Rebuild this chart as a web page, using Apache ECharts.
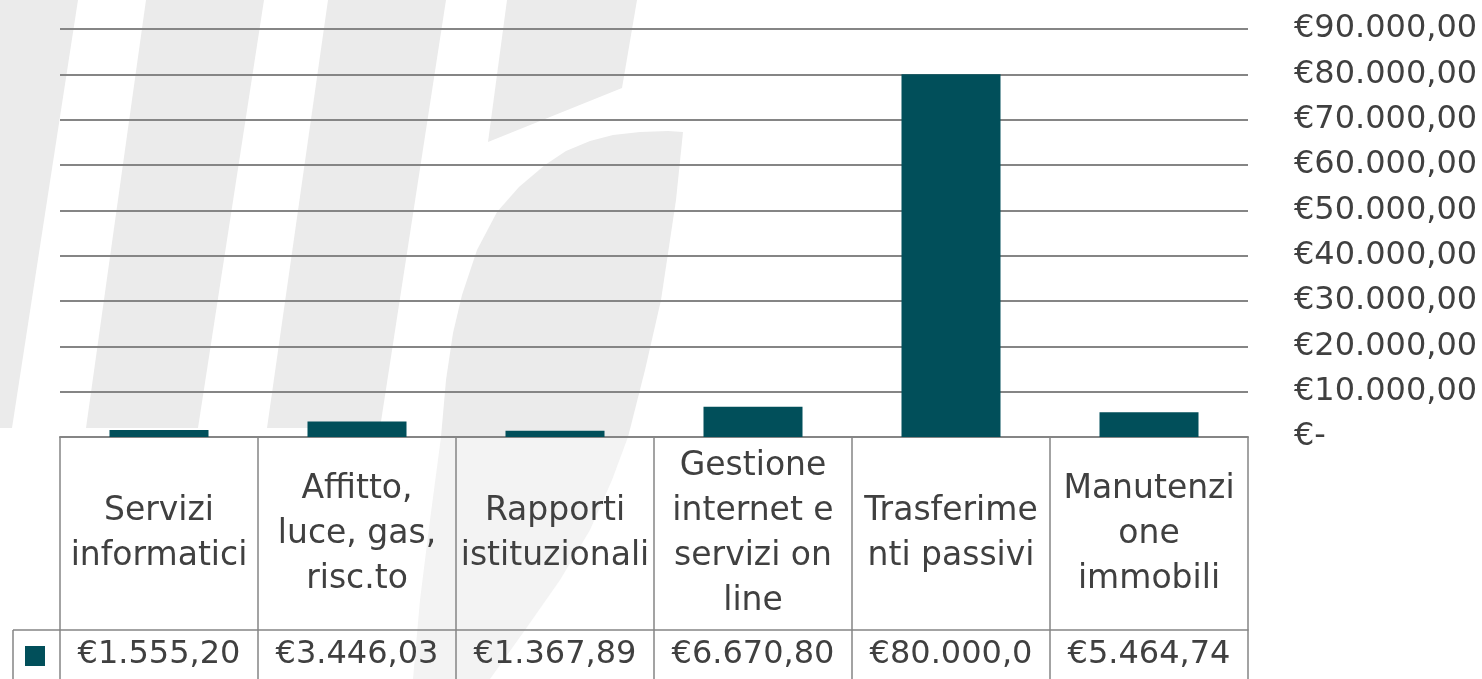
<!DOCTYPE html>
<html>
<head>
<meta charset="utf-8">
<script src="https://cdn.jsdelivr.net/npm/echarts@6/dist/echarts.min.js"></script>
<style>
html,body{margin:0;padding:0;background:#fff;}
#chart{width:1482px;height:679px;}
</style>
</head>
<body>
<div id="chart"></div>
<script>
// ---- data ----
const categories = [
  'Servizi\ninformatici',
  'Affitto,\nluce, gas,\nrisc.to',
  'Rapporti\nistituzionali',
  'Gestione\ninternet e\nservizi on\nline',
  'Trasferime\nnti passivi',
  'Manutenzi\none\nimmobili'
];
const values = [1555.20, 3446.03, 1367.89, 6670.80, 80000.00, 5464.74];
const yMin = 0;
const yMax = 90000;
const yStep = 10000;
const seriesName = 'Importo';

// ---- helpers ----
function formatEuro(v) {
  if (v === 0) return '€-';
  const parts = v.toFixed(2).split('.');
  const intPart = parts[0].replace(/\B(?=(\d{3})+(?!\d))/g, '.');
  return '€' + intPart + ',' + parts[1];
}
// table cells clip text to their width (9 characters fit)
const valueCells = values.map(v => formatEuro(v).slice(0, 9));

const FONT = 'DejaVu Sans';
const TXT = '#404040';
const LINE = '#858585';
const BAR = '#014f5a';
const WM = '#ebebeb';
const WM2 = '#f3f3f3';

const chart = echarts.init(document.getElementById('chart'), null, {renderer: 'canvas'});

const option = {
  backgroundColor: '#ffffff',
  animation: false,
  textStyle: {fontFamily: FONT, color: TXT},
  grid: {left: 60, right: 234, top: 29, bottom: 242, containLabel: false},
  legend: {
    show: true,
    data: [seriesName],
    left: 25,
    top: 646,
    padding: 0,
    icon: 'rect',
    itemWidth: 20,
    itemHeight: 20,
    formatter: function () { return ''; },
    textStyle: {fontSize: 1}
  },
  xAxis: [
    {
      type: 'category',
      data: categories,
      position: 'bottom',
      boundaryGap: true,
      axisLine: {show: true, lineStyle: {color: LINE, width: 2}},
      axisTick: {show: true, length: 242, alignWithLabel: false, lineStyle: {color: LINE, width: 1.5}},
      axisLabel: {
        interval: 0,
        margin: 97,
        verticalAlign: 'middle',
        align: 'center',
        fontSize: 33,
        lineHeight: 45,
        color: TXT,
        fontFamily: FONT
      },
      splitLine: {show: false}
    },
    {
      type: 'category',
      data: valueCells,
      position: 'bottom',
      offset: 193,
      boundaryGap: true,
      axisLine: {show: true, lineStyle: {color: LINE, width: 1.5}},
      axisTick: {show: false},
      axisLabel: {
        interval: 0,
        margin: 25,
        verticalAlign: 'middle',
        align: 'center',
        fontSize: 32,
        color: TXT,
        fontFamily: FONT
      },
      splitLine: {show: false}
    }
  ],
  yAxis: {
    type: 'value',
    position: 'right',
    min: yMin,
    max: yMax,
    interval: yStep,
    axisLine: {show: false},
    axisTick: {show: false},
    axisLabel: {
      margin: 46,
      align: 'left',
      fontSize: 32,
      color: TXT,
      fontFamily: FONT,
      formatter: function (v) { return formatEuro(v); }
    },
    splitLine: {show: true, lineStyle: {color: LINE, width: 2}}
  },
  series: [
    {
      name: seriesName,
      type: 'bar',
      xAxisIndex: 0,
      data: values,
      barWidth: '50%',
      itemStyle: {color: BAR},
      z: 3
    }
  ],
  graphic: [
    // decorative background watermark
    {type: 'polygon', z: -10, silent: true, shape: {points: [[0,0],[78,0],[12,428],[0,428]]}, style: {fill: WM}},
    {type: 'polygon', z: -10, silent: true, shape: {points: [[146,0],[264,0],[198,428],[86,428]]}, style: {fill: WM}},
    {type: 'polygon', z: -10, silent: true, shape: {points: [[328,0],[446,0],[380,428],[267,428]]}, style: {fill: WM}},
    {type: 'polygon', z: -10, silent: true, shape: {points: [[507,0],[637,0],[622,88],[488,142]]}, style: {fill: WM}},
    {type: 'polygon', z: -10, silent: true, shape: {points: [
      [441,437],[446,380],[453,333],[462,295],[477,250],[497,212],[519,187],[545,165],[566,151],[590,141],[613,135],[640,132],[668,131],[683,132],
      [676,200],[661,300],[645,370],[628,437]
    ]}, style: {fill: WM}},
    {type: 'polygon', z: -10, silent: true, shape: {points: [
      [441,437],[628,437],[612,480],[590,530],[560,580],[525,630],[490,679],[413,679],[420,600],[430,520]
    ]}, style: {fill: WM2}},
    // legend-key cell of the data table
    {type: 'line', z: 5, silent: true, shape: {x1: 13, y1: 630, x2: 60, y2: 630}, style: {stroke: LINE, lineWidth: 1.5}},
    {type: 'line', z: 5, silent: true, shape: {x1: 13, y1: 630, x2: 13, y2: 679}, style: {stroke: LINE, lineWidth: 1.5}}
  ]
};

chart.setOption(option);
</script>
</body>
</html>
